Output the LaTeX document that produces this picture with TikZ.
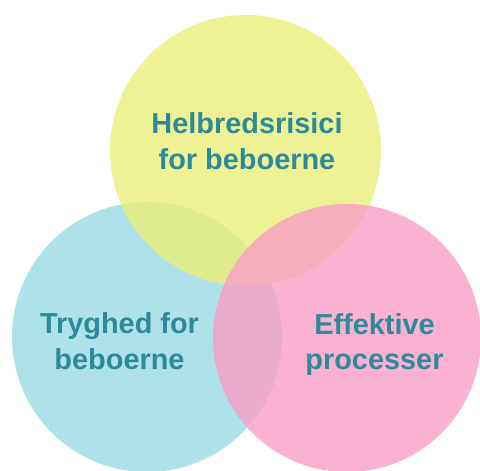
\documentclass[tikz,border=0pt]{standalone}
\usepackage{fontspec}
\setmainfont{Liberation Sans}
\usepackage{tikz}
\definecolor{gul}{RGB}{235,239,121}
\definecolor{turkis}{RGB}{152,220,226}
\definecolor{lyserod}{RGB}{250,157,197}
\definecolor{tekst}{RGB}{44,138,153}
\tikzstyle{cirkel}=[circle, inner sep=0pt, fill opacity=0.8, draw=none]
\tikzstyle{etiket}=[align=center, inner sep=0pt, text=tekst, font=\fontsize{29}{36}\selectfont\bfseries]

\begin{document}
\begin{tikzpicture}[x=1bp, y=-1bp]
                    \useasboundingbox (0,0) rectangle (480,471);
                    \node[cirkel, fill=turkis,  minimum size=270bp] (tryghed)  at (147,   337) {};
                    \node[cirkel, fill=gul,     minimum size=271bp] (helbred)  at (245.5, 150.5) {};
                    \node[cirkel, fill=lyserod, minimum size=268bp] (effektiv) at (347,   338) {};
                    \node[etiket] (t1) at (247,   141)   {Helbredsrisici\\for beboerne};
                    \node[etiket] (t2) at (119.5, 341.5) {Tryghed for\\beboerne};
                    \node[etiket] (t3) at (374.5, 344.5) {Effektive\\processer};
                \end{tikzpicture}
\end{document}
